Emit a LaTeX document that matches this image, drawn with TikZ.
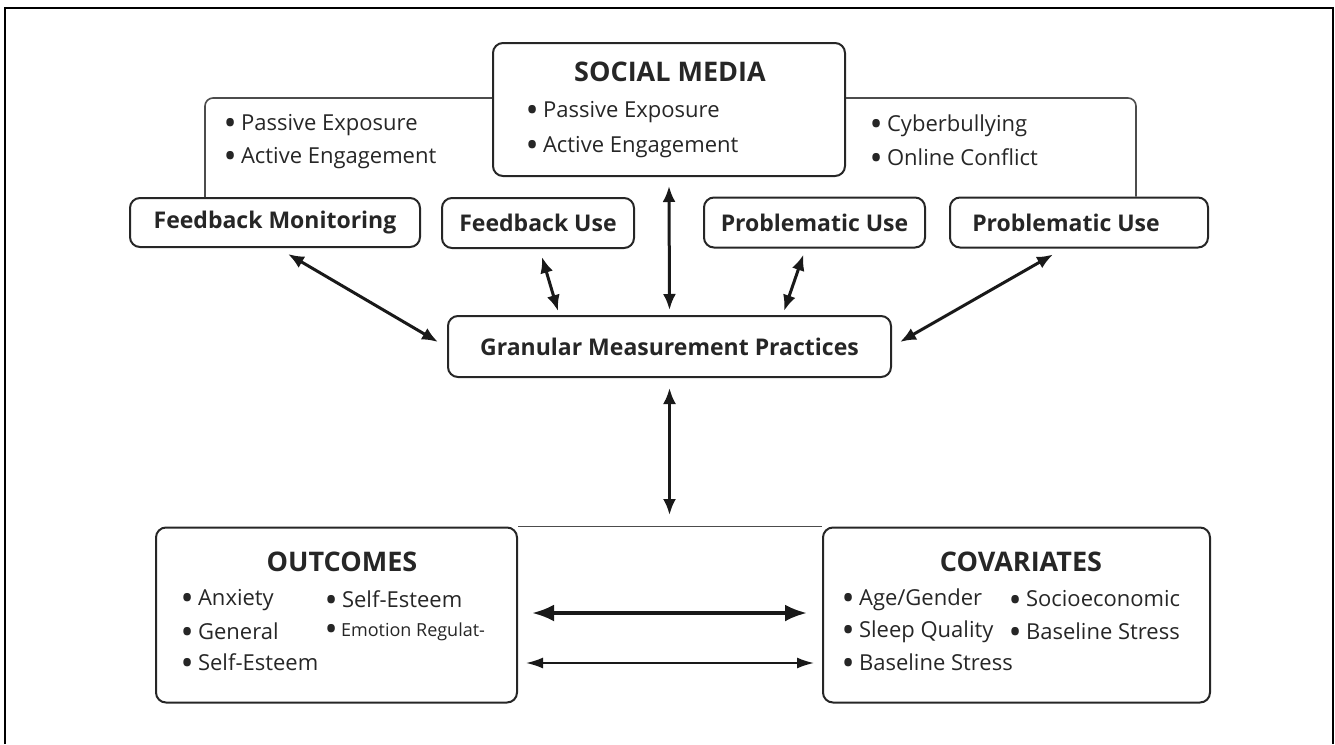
\documentclass[tikz,border=0pt]{standalone}
\usepackage{fontspec}
\setmainfont{Open Sans}
\newcommand{\bul}{\raisebox{-2.2pt}{\fontsize{27}{27}\selectfont\bfseries •}\ }
\usetikzlibrary{arrows.meta}

\begin{document}
\begin{tikzpicture}[x=1pt,y=-1pt,
    box/.style={draw=black!85,line width=2pt,rounded corners=10pt,inner sep=0pt},
    lbl/.style={font=\fontsize{23}{27}\selectfont\bfseries,text=black!85},
    ttl/.style={font=\fontsize{27}{32}\selectfont\bfseries,text=black!85,inner sep=0pt},
    itm/.style={anchor=west,font=\fontsize{22}{26}\selectfont,text=black!85,inner sep=0pt},
    arr/.style={{Latex[length=16pt,width=13pt]}-{Latex[length=16pt,width=13pt]},line width=3pt,black!90},
    fatarr/.style={{Latex[length=22pt,width=17pt]}-{Latex[length=22pt,width=17pt]},line width=3.6pt,black!90},
    slimarr/.style={{Latex[length=17pt,width=11pt]}-{Latex[length=17pt,width=11pt]},line width=1.8pt,black!90},
    bracket/.style={draw=black!70,line width=1.6pt,rounded corners=8pt}]

    \useasboundingbox (0,0) rectangle (1335,744);
    \draw[line width=2pt] (5,744) -- (5,8) -- (1333,8) -- (1333,744);

    % social media block
    \node[box,minimum width=352pt,minimum height=133pt] (social) at (669,109.5) {};
    \node[ttl] (socialttl) at (670,72) {SOCIAL MEDIA};
    \node[itm] (sm1) at (527,112) {\bul Passive Exposure};
    \node[itm] (sm2) at (527,147) {\bul Active Engagement};

    % side lists
    \node[itm] (left1) at (225,125) {\bul Passive Exposure};
    \node[itm] (left2) at (225,158) {\bul Active Engagement};
    \node[itm] (right1) at (871,126) {\bul Cyberbullying};
    \node[itm] (right2) at (871,158) {\bul Online Conflict};

    % measures
    \node[box,lbl,minimum width=290pt,minimum height=49pt] (fbmon) at (275,222.5) {Feedback Monitoring};
    \node[box,lbl,minimum width=192pt,minimum height=50pt] (fbuse) at (538,223) {Feedback Use};
    \node[box,lbl,minimum width=221pt,minimum height=50pt] (prob1) at (814.5,222.5) {Problematic Use};
    \node[box,lbl,minimum width=258pt,minimum height=50pt] (prob2) at (1079,222.5) {Problematic Use\hspace*{26pt}};

    \coordinate (lcorner) at (205,98);
    \coordinate (rcorner) at (1136,98);
    \draw[bracket] (fbmon.north -| lcorner) |- (social.west |- lcorner);
    \draw[bracket] (social.east |- rcorner) -| (prob2.north -| rcorner);

    \node[box,lbl,minimum width=443pt,minimum height=61pt] (gran) at (669.5,346.5) {Granular Measurement Practices};

    \draw[arr] ([xshift=13pt,yshift=-6pt]fbmon.south) -- ([xshift=-9pt,yshift=4.5pt]gran.west);
    \draw[arr] ([xshift=4pt,yshift=-8pt]fbuse.south) -- ([xshift=-111.5pt,yshift=4pt]gran.north);
    \draw[arr] ([yshift=-9pt]social.south) -- ([yshift=5pt]gran.north);
    \draw[arr] ([xshift=-11pt,yshift=-6pt]prob1.south) -- ([xshift=114.5pt,yshift=4pt]gran.north);
    \draw[arr] ([xshift=-26pt,yshift=-6pt]prob2.south) -- ([xshift=8pt,yshift=4.5pt]gran.east);

    \coordinate (split) at (669.5,515);
    \draw[arr] ([yshift=-10pt]gran.south) -- (split);

    % outcomes and covariates
    \node[box,minimum width=361pt,minimum height=175pt] (outc) at (336.5,615) {};
    \node[ttl] (outcttl) at (342,562) {OUTCOMES};
    \node[itm] (o1) at (182,600) {\bul Anxiety};
    \node[itm] (o2) at (182,632) {\bul General};
    \node[itm] (o3) at (182,663) {\bul Self-Esteem};
    \node[itm] (o4) at (326,600) {\bul Self-Esteem};
    \node[itm,font=\fontsize{18}{21}\selectfont] (o5) at (326,632) {\bul Emotion Regulat-};

    \node[box,minimum width=387pt,minimum height=175pt] (covar) at (1016.5,615) {};
    \node[ttl] (covarttl) at (1021,562) {COVARIATES};
    \node[itm] (c1) at (843,600) {\bul Age/Gender};
    \node[itm] (c2) at (843,632) {\bul Sleep Quality};
    \node[itm] (c3) at (843,663) {\bul Baseline Stress};
    \node[itm] (c4) at (1010,600) {\bul Socioeconomic};
    \node[itm] (c5) at (1010,632) {\bul Baseline Stress};

    \draw[black!70,line width=1.6pt] (outc.north east) -- (covar.north west);
    \draw[fatarr] ([xshift=14pt,yshift=2pt]outc.east) -- ([xshift=-15pt,yshift=2pt]covar.west);
    \draw[slimarr] ([xshift=8pt,yshift=-48pt]outc.east) -- ([xshift=-8pt,yshift=-48pt]covar.west);
\end{tikzpicture}
\end{document}
